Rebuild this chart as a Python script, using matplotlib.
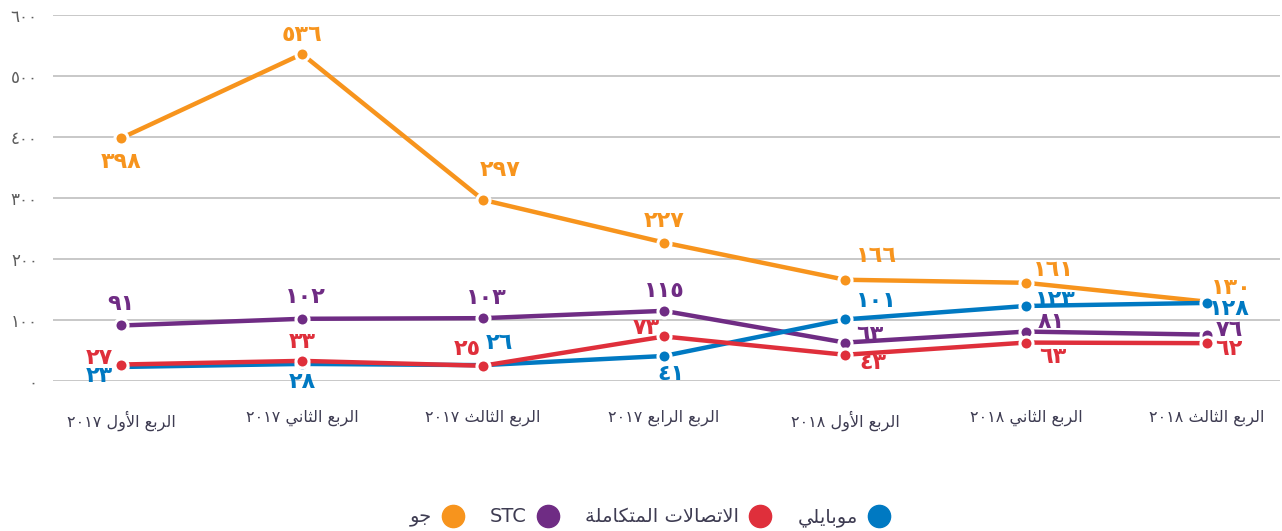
import numpy as np
import matplotlib
matplotlib.use("Agg")
import matplotlib.pyplot as plt
from matplotlib.lines import Line2D

plt.rcParams['font.family'] = ['DejaVu Sans']

# data
quarters = ["الربع الأول ٢٠١٧", "الربع الثاني ٢٠١٧", "الربع الثالث ٢٠١٧", "الربع الرابع ٢٠١٧",
            "الربع الأول ٢٠١٨", "الربع الثاني ٢٠١٨", "الربع الثالث ٢٠١٨"]
zain = [398, 536, 297, 227, 166, 161, 130]        # جو
stc = [91, 102, 103, 115, 63, 81, 76]
itc = [27, 33, 25, 73, 43, 63, 62]                 # الاتصالات المتكاملة
mobily = [23, 28, 26, 41, 101, 123, 128]
names = ["جو", "STC", "الاتصالات المتكاملة", "موبايلي"]
yticks = [0, 100, 200, 300, 400, 500, 600]

# label offsets in pixels (dx, dy)
zain_off = [(0, -24), (0, 19), (17, 30), (0, 22), (31, 24), (27, 13), (24, 14)]
stc_off = [(0, 21), (3, 22), (3, 20), (0, 20), (25, 8), (25, 10), (22, 5)]
itc_off = [(-22, 7), (0, 19), (-16, 17), (-18, 8), (28, -8), (27, -14), (22, -6)]
mobily_off = [(-22, -9), (0, -18), (16, 22), (7, -18), (31, 18), (29, 6), (22, -6)]

c_orange = "#f7941d"
c_purple = "#6f2c84"
c_red = "#df2f3b"
c_blue = "#0079c2"
txt_col = "#3e3c52"

# --- tiny arabic shaper (presentation forms + visual order) ---
FORMS = {
    'ا': ('\uFE8D', '\uFE8E', None, None),
    'أ': ('\uFE83', '\uFE84', None, None),
    'ب': ('\uFE8F', '\uFE90', '\uFE91', '\uFE92'),
    'ة': ('\uFE93', '\uFE94', None, None),
    'ت': ('\uFE95', '\uFE96', '\uFE97', '\uFE98'),
    'ث': ('\uFE99', '\uFE9A', '\uFE9B', '\uFE9C'),
    'ج': ('\uFE9D', '\uFE9E', '\uFE9F', '\uFEA0'),
    'ر': ('\uFEAD', '\uFEAE', None, None),
    'ص': ('\uFEB9', '\uFEBA', '\uFEBB', '\uFEBC'),
    'ع': ('\uFEC9', '\uFECA', '\uFECB', '\uFECC'),
    'ك': ('\uFED9', '\uFEDA', '\uFEDB', '\uFEDC'),
    'ل': ('\uFEDD', '\uFEDE', '\uFEDF', '\uFEE0'),
    'م': ('\uFEE1', '\uFEE2', '\uFEE3', '\uFEE4'),
    'ن': ('\uFEE5', '\uFEE6', '\uFEE7', '\uFEE8'),
    'و': ('\uFEED', '\uFEEE', None, None),
    'ي': ('\uFEF1', '\uFEF2', '\uFEF3', '\uFEF4'),
    'لا': ('\uFEFB', '\uFEFC', None, None),
    'لأ': ('\uFEF7', '\uFEF8', None, None),
}


def shape_word(w):
    toks = []
    i = 0
    while i < len(w):
        if w[i] == 'ل' and i + 1 < len(w) and w[i + 1] in 'اأ':
            toks.append(w[i:i + 2])
            i += 2
        else:
            toks.append(w[i])
            i += 1
    out = []
    for k, t in enumerate(toks):
        f = FORMS.get(t)
        if f is None:
            out.append(t)
            continue
        prev = FORMS.get(toks[k - 1]) if k > 0 else None
        nxt = FORMS.get(toks[k + 1]) if k + 1 < len(toks) else None
        jp = prev is not None and prev[2] is not None
        jn = f[2] is not None and nxt is not None
        if jp and jn:
            out.append(f[3])
        elif jp:
            out.append(f[1])
        elif jn:
            out.append(f[2])
        else:
            out.append(f[0])
    return ''.join(reversed(out))


def rtl(s):
    words = s.split(' ')
    return ' '.join(shape_word(w) if any(c in FORMS for c in w) else w
                    for w in reversed(words))


def ar_num(v):
    return str(v).translate(str.maketrans('0123456789', '٠١٢٣٤٥٦٧٨٩'))


fig = plt.figure(figsize=(12.82, 5.31), dpi=100)
ax = fig.add_axes([53 / 1282, 1 - 381 / 531, (1280 - 53) / 1282, (381 - 15) / 531])

x = np.arange(len(quarters))
series = [(zain, c_orange, zain_off), (stc, c_purple, stc_off),
          (mobily, c_blue, mobily_off), (itc, c_red, itc_off)]
for vals, col, offs in series:
    ax.plot(x, vals, color=col, lw=3.2, marker='o', ms=9.4, mfc=col, mec='white',
            mew=2.2, clip_on=False, solid_capstyle='butt')
    for xi, v, (dx, dy) in zip(x, vals, offs):
        ax.annotate(ar_num(v), (xi, v), xytext=(dx * 0.72, dy * 0.72),
                    textcoords='offset points', ha='center', va='center',
                    color=col, fontsize=16, fontweight='bold')

ax.set_xlim(-(121 - 53) / 181, 6 + (1280 - 1207) / 181)
ax.set_ylim(0, 600)
ax.set_yticks(yticks)
ax.set_yticklabels([ar_num(t) for t in yticks], color="#5c5c5c", fontsize=12)
ax.set_xticks(x)
ax.set_xticklabels([rtl(q) for q in quarters], color=txt_col, fontsize=11.5)
ax.tick_params(axis='y', length=0, pad=11)
ax.tick_params(axis='x', length=0, pad=21)
ax.grid(axis='y', color="#b9b9b9", lw=1.1)
ax.set_axisbelow(True)
for s in ax.spines.values():
    s.set_visible(False)

handles = [Line2D([], [], ls='none', marker='o', ms=16, color=c, mec=c)
           for c in [c_orange, c_purple, c_red, c_blue]]
fig.legend(handles, [rtl(n) for n in names], loc='center', bbox_to_anchor=(0.507, 0.026),
           ncol=4, frameon=False, markerfirst=False, fontsize=14, handlelength=1.2,
           handletextpad=0.5, columnspacing=1.3, labelcolor=txt_col)

fig.savefig("out.png", dpi=100)
